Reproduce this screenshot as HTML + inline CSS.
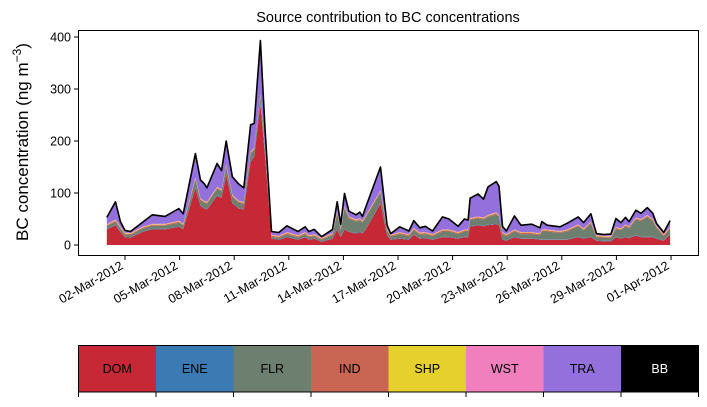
<!DOCTYPE html>
<html><head><meta charset="utf-8"><style>
body{margin:0;background:#fff;width:707px;height:402px;overflow:hidden}
svg{font-family:"Liberation Sans","DejaVu Sans",sans-serif}
</style></head><body>
<svg id="chart" width="707" height="402" viewBox="0 0 707 402" xmlns="http://www.w3.org/2000/svg">
<text x="388" y="22" font-size="14.5" text-anchor="middle">Source contribution to BC concentrations</text>
<text transform="translate(28,142) rotate(-90)" font-size="17" text-anchor="middle">BC concentration (ng m<tspan dy="-7" font-size="12">−3</tspan><tspan dy="7">)</tspan></text>
<g id="plot"></g>
<g id="legend"></g>
</svg>
<script>
const times=[0.0,0.48,0.75,1.0,1.3,1.94,2.5,3.2,3.96,4.2,4.87,5.15,5.35,5.5,6.06,6.3,6.56,6.9,7.26,7.53,7.9,8.1,8.44,8.7,9.05,9.45,9.9,10.5,10.9,11.1,11.4,11.8,12.4,12.66,12.85,13.06,13.3,13.7,13.9,14.05,14.2,15.04,15.4,15.6,16.1,16.6,16.87,17.2,17.5,17.9,18.44,18.8,19.3,19.65,19.85,19.96,20.4,20.7,20.95,21.4,21.55,21.74,21.95,22.4,22.75,23.35,23.8,23.9,24.2,24.9,25.3,25.9,26.2,26.6,26.9,27.3,27.7,27.97,28.25,28.5,28.7,29.07,29.35,29.7,30.0,30.2,30.6,30.95];
const totalBC=[53,83,45,28,26,43,58,55,70,60,176,125,118,110,157,143,200,131,117,110,231,234,393,221,26,24,37,26,35,26,30,16,30,83,40,99,65,58,63,55,70,150,38,22,35,27,47,33,36,27,54,50,36,50,48,90,98,88,112,122,113,36,27,56,38,40,33,45,38,35,42,54,43,60,22,20,21,51,43,53,45,67,61,72,61,42,24,47];
const domBC=[30,38,25,15,14,25,30,30,35,30,110,75,70,68,95,90,135,80,70,68,160,170,270,170,12,10,15,10,15,10,12,6,12,30,15,30,25,22,25,22,28,80,18,10,12,10,20,12,13,10,15,15,12,15,15,35,38,36,38,40,38,10,8,15,12,12,10,10,10,10,10,15,12,15,8,7,7,15,12,15,13,18,15,15,15,12,8,20];
const flrBC=[5,6,5,4,4,5,6,6,7,6,15,10,10,10,12,12,15,12,10,10,15,12,15,10,3,3,5,4,5,4,4,3,6,30,12,40,25,22,22,20,22,20,8,5,8,6,8,7,7,6,10,10,8,10,10,12,12,12,15,18,15,10,8,10,8,8,8,15,15,12,15,20,15,25,6,6,6,15,15,20,18,30,30,38,30,20,8,10];
const eneBC=times.map(()=>1);
const indBC=times.map(()=>2);
const shpBC=times.map(()=>1);
const wstBC=times.map(()=>1);
const sources=["DOM","ENE","FLR","IND","SHP","WST","TRA","BB"];
const colors=["#c62836","#3b7ab3","#6d7f6f","#c96553","#e6d02e","#f17fbe","#9370db","#000000"];
const yTicks=[0,100,200,300,400];
const xTickDays=[1,4,7,10,13,16,19,22,25,28,31];
const xTickLabels=["02-Mar-2012","05-Mar-2012","08-Mar-2012","11-Mar-2012","14-Mar-2012","17-Mar-2012","20-Mar-2012","23-Mar-2012","26-Mar-2012","29-Mar-2012","01-Apr-2012"];

const NS="http://www.w3.org/2000/svg";
const X=t=>106.8+t*18.2;
const Y=v=>245-v*0.52;
const plot=document.getElementById('plot');
function mk(tag,attrs,parent){const e=document.createElementNS(NS,tag);for(const k in attrs)e.setAttribute(k,attrs[k]);(parent||plot).appendChild(e);return e;}
const traBC=totalBC.map((v,i)=>Math.max(0,v-domBC[i]-eneBC[i]-flrBC[i]-indBC[i]-shpBC[i]-wstBC[i]));
const layers=[domBC,eneBC,flrBC,indBC,shpBC,wstBC,traBC];
let base=times.map(()=>0);
layers.forEach((arr,li)=>{
  const top=base.map((b,i)=>b+arr[i]);
  let d="M"+times.map((t,i)=>X(t).toFixed(1)+","+Y(top[i]).toFixed(1)).join("L");
  for(let i=times.length-1;i>=0;i--)d+="L"+X(times[i]).toFixed(1)+","+Y(base[i]).toFixed(1);
  const p=mk('path',{d:d+"Z",fill:colors[li],stroke:"none"});
  
  
  base=top;
});
const ln=mk('polyline',{points:times.map((t,i)=>X(t).toFixed(1)+","+Y(totalBC[i]).toFixed(1)).join(" "),fill:"none",stroke:"#000","stroke-width":1.6,"stroke-linejoin":"round"});


const frame=mk('rect',{x:78.5,y:30.5,width:620,height:225,fill:"none",stroke:"#000","stroke-width":1});


yTicks.forEach(v=>{
  mk('line',{x1:74,x2:78.5,y1:Y(v),y2:Y(v),stroke:"#000"});
  const t=mk('text',{x:71,y:Y(v)+4.5,"font-size":12.5,"text-anchor":"end"});
  t.textContent=v;
  
  
});
xTickDays.forEach((d,i)=>{
  const x=X(d);
  mk('line',{x1:x,x2:x,y1:255.5,y2:260,stroke:"#000"});
  const t=mk('text',{transform:`translate(${x-1},${268}) rotate(-30)`,"font-size":12.5,"text-anchor":"end"});
  t.textContent=xTickLabels[i];
  
  
});
const leg=document.getElementById('legend');
const lw=620/8;
sources.forEach((s,i)=>{
  const r=mk('rect',{x:78.5+i*lw,y:345,width:lw,height:47,fill:colors[i]},leg);
  
  
  const t=mk('text',{x:78.5+i*lw+lw/2,y:373,"font-size":12.5,"text-anchor":"middle",fill:s==="BB"?"#fff":"#000"},leg);
  t.textContent=s;
  
  
});
mk('rect',{x:78.5,y:345.5,width:620,height:46.5,fill:"none",stroke:"#000"},leg);
for(let i=0;i<=8;i++)mk('line',{x1:78.5+i*lw,x2:78.5+i*lw,y1:392,y2:397,stroke:"#000"},leg);
</script>
</body></html>
